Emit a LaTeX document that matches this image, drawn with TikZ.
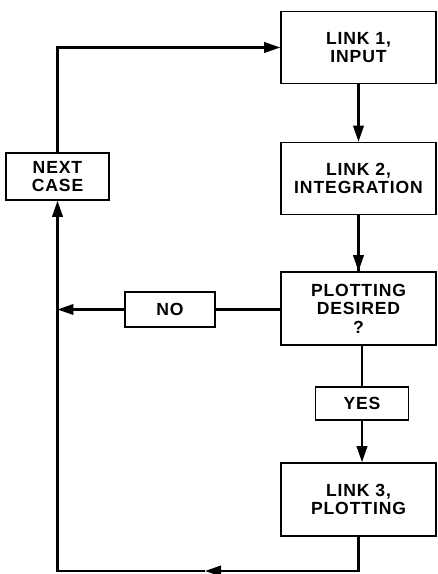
\documentclass[tikz,border=0pt]{standalone}
\usepackage{fontspec}
\setmainfont[LetterSpace=5]{Liberation Sans}
\usetikzlibrary{arrows.meta,positioning}

\begin{document}
\begin{tikzpicture}[font=\fontsize{10}{10.5}\selectfont\bfseries,
        box/.style={draw,line width=0.9pt,minimum width=3.1cm,
          minimum height=1.44cm,align=center,inner sep=1pt},
        tag/.style={draw,line width=0.9pt,align=center,inner sep=1pt},
        a/.style={-{Triangle[length=3.2mm,width=2.1mm]},line width=1.2pt},
        l/.style={line width=1.2pt}]
        \useasboundingbox (0,0) rectangle (8.76,11.48);
        \node[box] (link1) at (7.17,10.53) {LINK 1,\\INPUT};
        \node[box] (link2) at (7.17,7.91) {LINK 2,\\INTEGRATION};
        \node[box,minimum height=1.46cm] (plot) at (7.17,5.31)
          {PLOTTING\\DESIRED\\?};
        \node[tag,minimum width=1.86cm,minimum height=0.66cm] (yes) at (7.24,3.41) {YES};
        \node[box,minimum height=1.46cm] (link3) at (7.17,1.49) {LINK 3,\\PLOTTING};
        \node[tag,minimum width=1.8cm,minimum height=0.7cm] (no) at (3.4,5.29) {NO};
        \node[tag,minimum width=2.06cm,minimum height=0.94cm] (next) at (1.15,7.95)
          {NEXT\\CASE};
        \coordinate (join) at (next.south |- no.west);
        \coordinate (botarr) at (4.1,0.06);
        % main column
        \draw[a] (link1)--(link2);
        \draw[l] (link2)--(plot);
        \draw[a] (link2.south)--(plot.north);
        \draw[l] (plot.south -| yes)--(yes.north);
        \draw[a] (yes.south)--(yes.south |- link3.north);
        % return paths
        \draw[l] (no.east -| plot.west)--(no.east);
        \draw[a] (no.west)--(join);
        \draw[a] (link3.south) |- (botarr);
        \draw[a] (botarr) -| (next.south);
        \draw[a] (next.north) |- (link1.west);
      \end{tikzpicture}
\end{document}
